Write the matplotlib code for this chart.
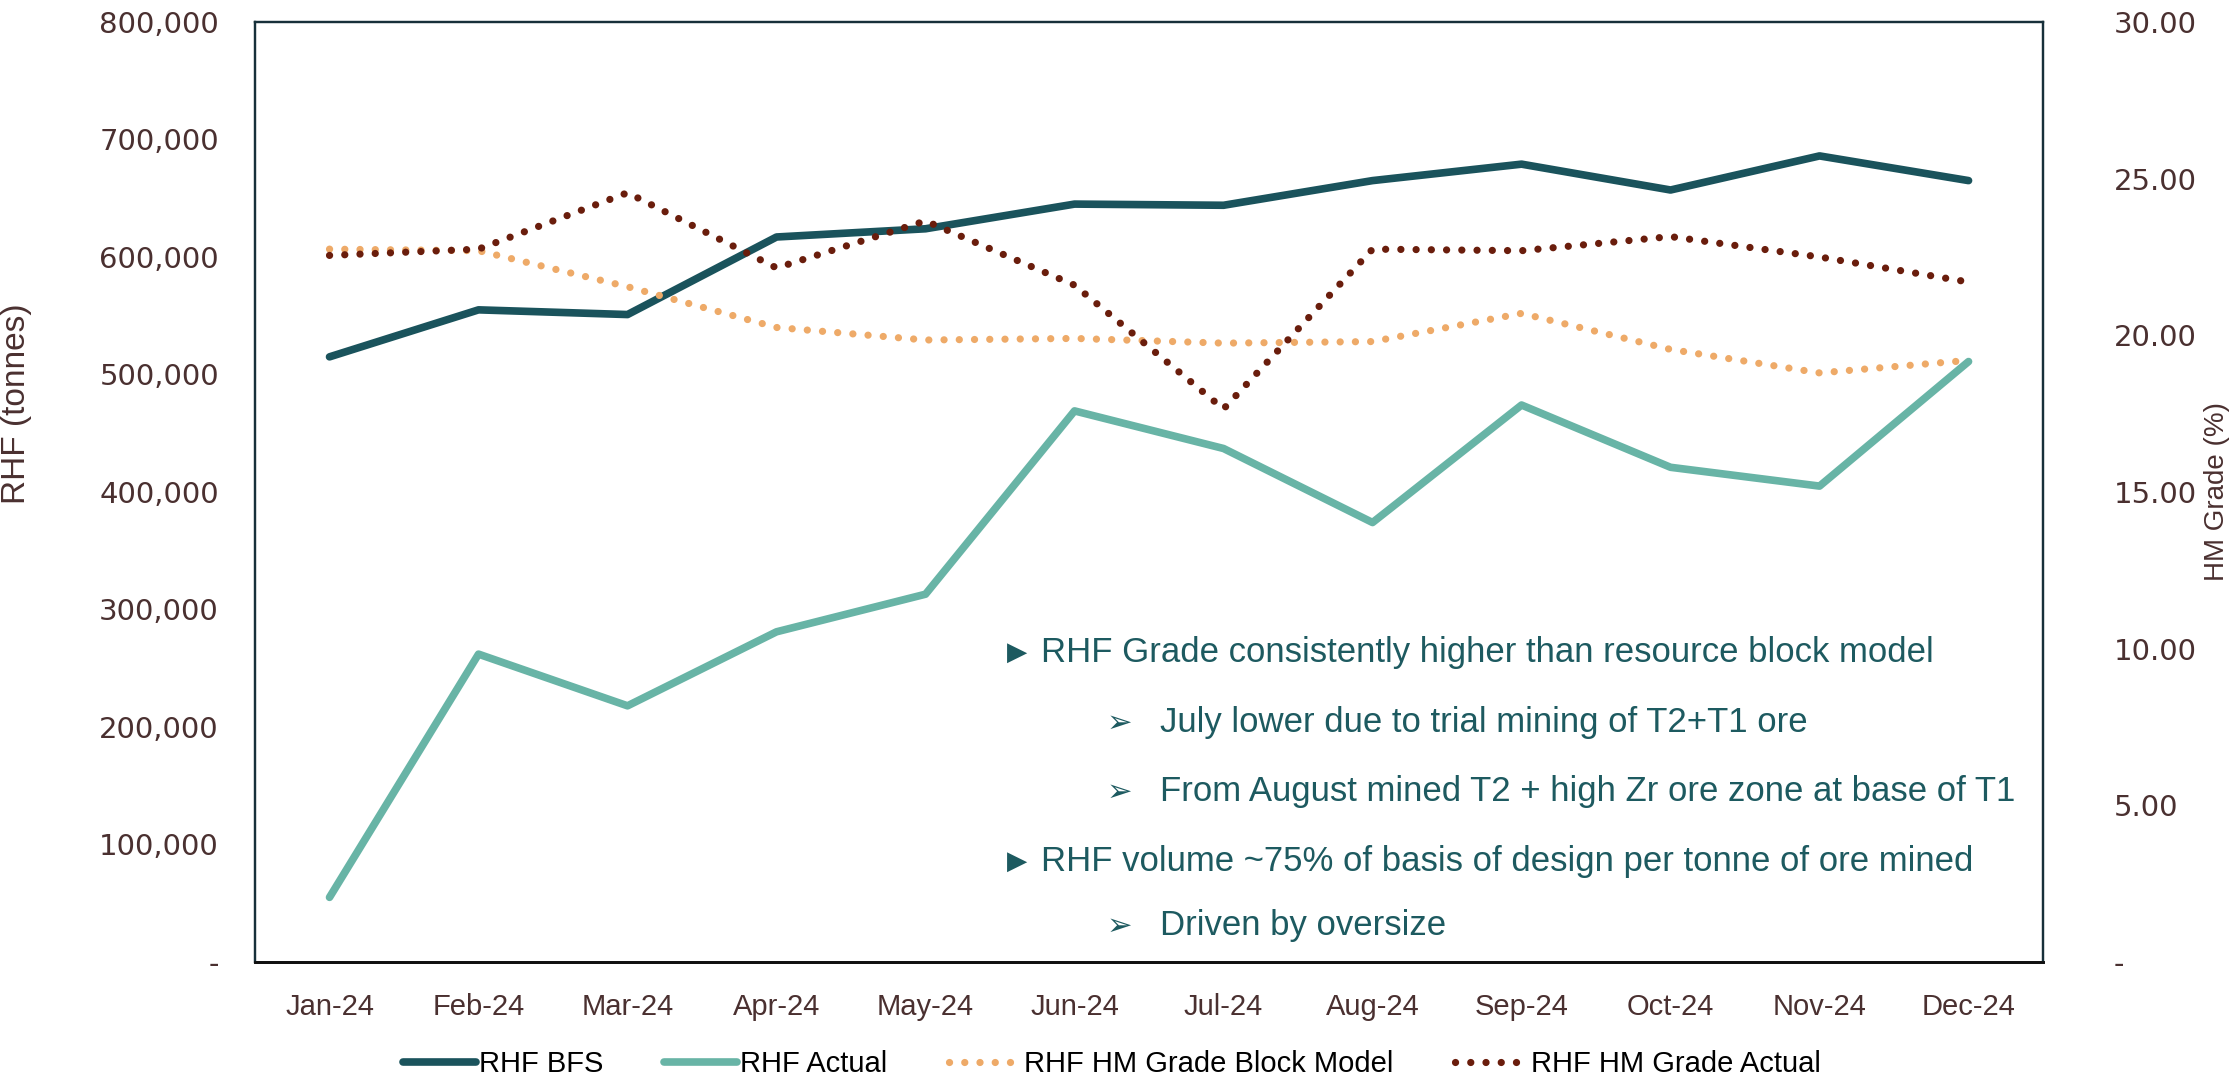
import matplotlib
matplotlib.use('Agg')
import matplotlib.pyplot as plt
from matplotlib.ticker import FuncFormatter

months = ['Jan-24', 'Feb-24', 'Mar-24', 'Apr-24', 'May-24', 'Jun-24',
          'Jul-24', 'Aug-24', 'Sep-24', 'Oct-24', 'Nov-24', 'Dec-24']
rhf_bfs = [515000, 555000, 551000, 617000, 624000, 645000,
           644000, 665000, 679000, 657000, 686000, 665000]
rhf_actual = [55000, 262000, 218000, 281000, 313000, 469000,
              437000, 374000, 474000, 421000, 405000, 511000]
grade_block = [22.75, 22.7, 21.55, 20.25, 19.85, 19.9,
               19.75, 19.8, 20.7, 19.55, 18.8, 19.2]
grade_actual = [22.55, 22.75, 24.55, 22.15, 23.65, 21.6,
                17.65, 22.75, 22.7, 23.15, 22.5, 21.7]

notes = [
    (0, 'RHF Grade consistently higher than resource block model'),
    (1, 'July lower due to trial mining of T2+T1 ore'),
    (1, 'From August mined T2 + high Zr ore zone at base of T1'),
    (0, 'RHF volume ~75% of basis of design per tonne of ore mined'),
    (1, 'Driven by oversize'),
]

c_bfs = '#1a535c'
c_act = '#68b4a6'
c_blk = '#eeaa68'
c_gact = '#6a1d0c'
c_tick = '#4a3030'
c_note = '#1d5a60'
fam = ['Liberation Sans', 'DejaVu Sans']

fig = plt.figure(figsize=(22.37, 10.77), dpi=100)
ax = fig.add_axes([0.114, 0.1068, 0.7993, 0.8728])
ax2 = ax.twinx()

x = list(range(len(months)))
l1, = ax.plot(x, rhf_bfs, color=c_bfs, lw=5.5, solid_capstyle='round', label='RHF BFS', zorder=3)
l2, = ax.plot(x, rhf_actual, color=c_act, lw=5.5, solid_capstyle='round', label='RHF Actual', zorder=3)
l3, = ax2.plot(x, grade_block, color=c_blk, lw=5.2, ls=(0, (0.01, 2.1)),
               dash_capstyle='round', label='RHF HM Grade Block Model')
l4, = ax2.plot(x, grade_actual, color=c_gact, lw=5.2, ls=(0, (0.01, 2.1)),
               dash_capstyle='round', label='RHF HM Grade Actual')

ax.set_xlim(-0.5, len(months) - 0.5)
ax.set_ylim(0, 800000)
ax2.set_ylim(0, 30)
ax.set_yticks(range(0, 800001, 100000))
ax2.set_yticks(range(0, 31, 5))
ax.yaxis.set_major_formatter(FuncFormatter(lambda v, p: '-' if v == 0 else '{:,.0f}'.format(v)))
ax2.yaxis.set_major_formatter(FuncFormatter(lambda v, p: '-' if v == 0 else '{:.2f}'.format(v)))
ax.set_xticks(x)
ax.set_xticklabels(months, family=fam, fontsize=21, color=c_tick)

ax.tick_params(axis='x', length=0, pad=22)
ax.tick_params(axis='y', length=0, pad=26, labelsize=21, labelcolor=c_tick)
ax2.tick_params(axis='y', length=0, pad=51, labelsize=21, labelcolor=c_tick)
for a in (ax, ax2):
    for s in a.spines.values():
        s.set_color('#17303a')
        s.set_linewidth(1.6)
    a.spines['bottom'].set_color('#111111')
    a.spines['bottom'].set_linewidth(2)

ax.set_ylabel('RHF (tonnes)', family=fam, fontsize=24, color=c_tick)
ax.yaxis.set_label_coords(-0.125, 0.594)
ax2.set_ylabel('HM Grade (%)', family=fam, fontsize=20, color=c_tick)
ax2.yaxis.set_label_coords(1.09, 0.5)

# bullet notes
ys = [0.3287, 0.2543, 0.1809, 0.1064, 0.0383]
for (lvl, txt), yy in zip(notes, ys):
    if lvl == 0:
        ax.text(0.4206, yy, '\u25b6', transform=ax.transAxes, fontsize=19,
                color=c_note, va='center', family=['DejaVu Sans'])
        ax.text(0.4396, yy, txt, transform=ax.transAxes, fontsize=25,
                color=c_note, va='center', family=fam)
    else:
        ax.text(0.476, yy, '\u27a2', transform=ax.transAxes, fontsize=22,
                color=c_note, va='center', family=['DejaVu Sans'])
        ax.text(0.506, yy, txt, transform=ax.transAxes, fontsize=25,
                color=c_note, va='center', family=fam)

fig.legend(handles=[l1, l2, l3, l4], loc='center', bbox_to_anchor=(0.497, 0.012),
           ncol=4, frameon=False, handlelength=2.5, handletextpad=0.1,
           columnspacing=2.1, prop={'family': fam, 'size': 21})

plt.savefig('out.png', dpi=100)
